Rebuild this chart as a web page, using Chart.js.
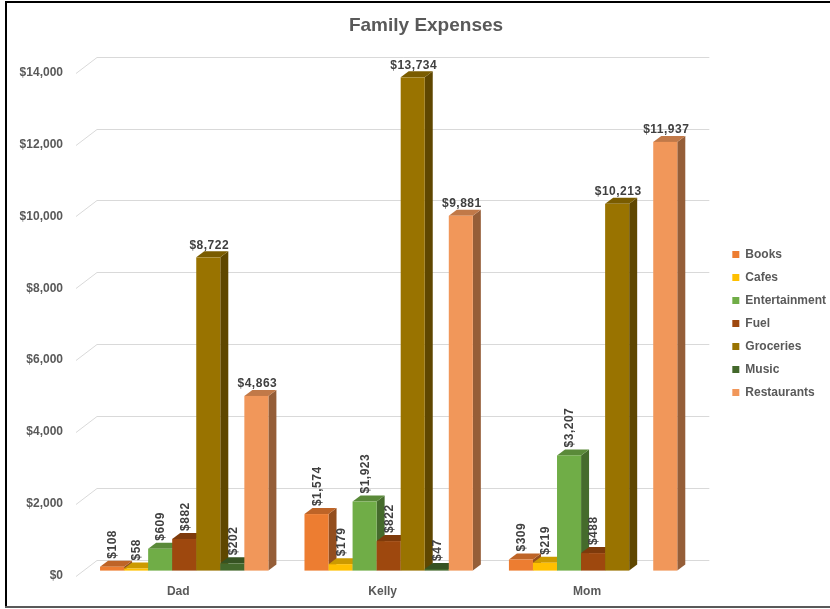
<!DOCTYPE html>
<html>
<head>
<meta charset="utf-8">
<script src="https://cdn.jsdelivr.net/npm/chart.js@4.4.1/dist/chart.umd.min.js"></script>
<style>
  html, body { margin: 0; padding: 0; background: #fff; }
  #wrap { width: 830px; height: 609px; position: relative; }
</style>
</head>
<body>
<div id="wrap"><canvas id="family-expenses"></canvas></div>
<script>
const people = ['Dad', 'Kelly', 'Mom'];
const books = [108, 1574, 309];
const cafes = [58, 179, 219];
const entertainment = [609, 1923, 3207];
const fuel = [882, 822, 488];
const groceries = [8722, 13734, 10213];
const music = [202, 47, null];
const restaurants = [4863, 9881, 11937];
const yMax = 14000;
const yStep = 2000;

// 3d look: how far the top/side faces go back
const DX = 8, DY = 6;

function shade(hex, f) {
  const n = parseInt(hex.slice(1), 16);
  const r = Math.round(((n >> 16) & 255) * f);
  const g = Math.round(((n >> 8) & 255) * f);
  const b = Math.round((n & 255) * f);
  return `rgb(${r},${g},${b})`;
}

const money = v => '$' + v.toLocaleString('en-US');

// gridlines on the back wall with the little slanted bit on the left
const backWall = {
  id: 'backWall',
  beforeDatasetsDraw(chart) {
    const { ctx, chartArea, scales: { y } } = chart;
    ctx.save();
    ctx.strokeStyle = '#d9d9d9';
    ctx.lineWidth = 1;
    y.ticks.forEach(t => {
      const py = Math.round(y.getPixelForValue(t.value)) + 0.5;
      ctx.beginPath();
      ctx.moveTo(chartArea.left - 6, py + 5);
      ctx.lineTo(chartArea.left + 15, py - 11);
      ctx.lineTo(chartArea.right + 14, py - 11);
      ctx.stroke();
    });
    ctx.restore();
  }
};

// draw the bars ourselves, left to right, so the faces overlap properly
const bars3d = {
  id: 'bars3d',
  beforeDatasetDraw() {
    return false;
  },
  afterDatasetsDraw(chart) {
    const ctx = chart.ctx;
    ctx.save();
    chart.data.datasets.forEach((ds, i) => {
      const meta = chart.getDatasetMeta(i);
      meta.data.forEach((bar, j) => {
        if (ds.data[j] == null) return;
        const { x, y, base, width } = bar.getProps(['x', 'y', 'base', 'width'], true);
        const l = x - width / 2, r = x + width / 2;
        ctx.fillStyle = shade(ds.backgroundColor, 0.62);
        ctx.beginPath();
        ctx.moveTo(r, y);
        ctx.lineTo(r + DX, y - DY);
        ctx.lineTo(r + DX, base - DY);
        ctx.lineTo(r, base);
        ctx.closePath();
        ctx.fill();
        ctx.fillStyle = shade(ds.backgroundColor, 0.8);
        ctx.beginPath();
        ctx.moveTo(l, y);
        ctx.lineTo(l + DX, y - DY);
        ctx.lineTo(r + DX, y - DY);
        ctx.lineTo(r, y);
        ctx.closePath();
        ctx.fill();
        ctx.fillStyle = ds.backgroundColor;
        ctx.fillRect(l, y, width, base - y);
      });
    });
    ctx.restore();
  }
};

// value labels, small ones stand on end like in excel
const valueLabels = {
  id: 'valueLabels',
  afterDatasetsDraw(chart) {
    const ctx = chart.ctx;
    ctx.save();
    ctx.font = 'bold 12px "Liberation Sans", Arial, sans-serif';
    ctx.letterSpacing = '0.5px';
    ctx.fillStyle = '#404040';
    chart.data.datasets.forEach((ds, i) => {
      const meta = chart.getDatasetMeta(i);
      meta.data.forEach((bar, j) => {
        const v = ds.data[j];
        if (v == null) return;
        const { x, y } = bar.getProps(['x', 'y'], true);
        if (v < 4000) {
          ctx.save();
          ctx.translate(x + 1, y - 8);
          ctx.rotate(-Math.PI / 2);
          ctx.textAlign = 'left';
          ctx.textBaseline = 'middle';
          ctx.fillText(money(v), 0, 0);
          ctx.restore();
        } else {
          ctx.textAlign = 'center';
          ctx.textBaseline = 'bottom';
          ctx.fillText(money(v), x + 1, y - 6);
        }
      });
    });
    ctx.restore();
  }
};

const frame = {
  id: 'frame',
  afterDraw(chart) {
    const ctx = chart.ctx;
    ctx.save();
    ctx.fillStyle = '#000';
    ctx.fillRect(5, 1, 825, 2);
    ctx.fillRect(5, 1, 2, 607);
    ctx.fillStyle = '#595959';
    ctx.fillRect(5, 606, 825, 2);
    ctx.restore();
  }
};

const labelFont = { family: '"Liberation Sans", Arial, sans-serif', weight: 'bold', size: 12 };

try {
  new Chart(document.getElementById('family-expenses'), {
    type: 'bar',
    data: {
      labels: people,
      datasets: [
        { label: 'Books', data: books, backgroundColor: '#ED7D31' },
        { label: 'Cafes', data: cafes, backgroundColor: '#FFC000' },
        { label: 'Entertainment', data: entertainment, backgroundColor: '#70AD47' },
        { label: 'Fuel', data: fuel, backgroundColor: '#9E480E' },
        { label: 'Groceries', data: groceries, backgroundColor: '#997300' },
        { label: 'Music', data: music, backgroundColor: '#43682B' },
        { label: 'Restaurants', data: restaurants, backgroundColor: '#F1975A' }
      ]
    },
    options: {
      responsive: true,
      maintainAspectRatio: false,
      animation: false,
      categoryPercentage: 168 / 204,
      barPercentage: 1,
      layout: { padding: { left: 16, right: -6, top: 0, bottom: -4 } },
      scales: {
        x: {
          grid: { display: false, drawTicks: false },
          border: { display: false },
          ticks: { padding: 14, labelOffset: -6, color: '#595959', font: labelFont }
        },
        y: {
          min: 0,
          max: yMax,
          afterFit(scale) { scale.width = 66; },
          grid: { display: false, drawTicks: false },
          border: { display: false },
          ticks: {
            stepSize: yStep,
            padding: 19,
            labelOffset: 5,
            color: '#595959',
            font: labelFont,
            callback: v => money(v)
          }
        },
        spacer: {
          type: 'linear',
          position: 'right',
          afterFit(scale) { scale.width = 26; },
          grid: { display: false, drawTicks: false },
          border: { display: false },
          ticks: { display: false }
        }
      },
      plugins: {
        title: {
          display: true,
          text: 'Family Expenses',
          color: '#595959',
          font: { family: '"Liberation Sans", Arial, sans-serif', weight: 'bold', size: 19 },
          padding: { top: 14, bottom: 31 }
        },
        legend: {
          position: 'right',
          title: { display: true, text: ' ', font: { size: 10 }, padding: { top: 22, bottom: 0 } },
          labels: { boxWidth: 7, boxHeight: 7, padding: 11, color: '#595959', font: labelFont }
        },
        tooltip: { enabled: false }
      }
    },
    plugins: [backWall, bars3d, valueLabels, frame]
  });
} catch (error) {
  console.log(error);
}
</script>
</body>
</html>
